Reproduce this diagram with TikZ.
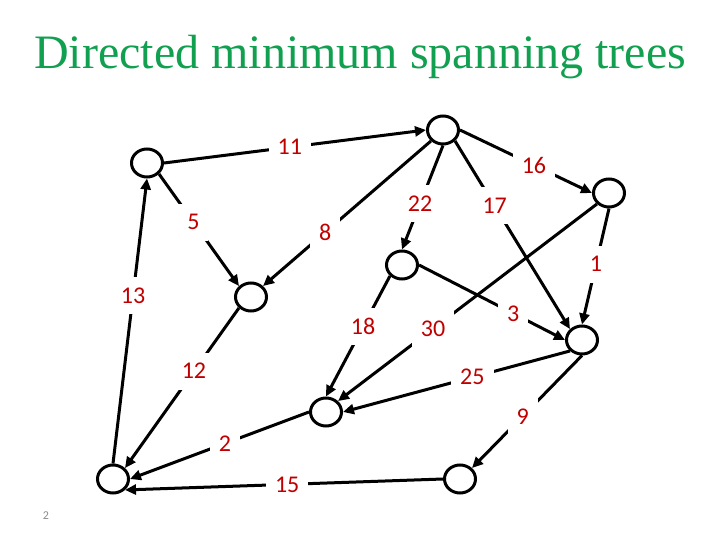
\documentclass[tikz,border=0pt]{standalone}
\usepackage{fontspec}
\setmainfont{Liberation Serif}
\newfontfamily\labelfont{Carlito}
\usetikzlibrary{arrows.meta,shapes.geometric}

\definecolor{titlegreen}{RGB}{16,160,80}
\definecolor{weightred}{RGB}{192,0,0}
\definecolor{pagegray}{RGB}{140,140,140}

\tikzset{
	vertex/.style={draw,ellipse,line width=3pt,minimum width=31pt,minimum height=28pt,inner sep=0pt},
	edge/.style={line width=3pt,-{Triangle[length=11pt,width=10pt]}},
	weight/.style={fill=white,text=weightred,font=\labelfont\fontsize{24}{28}\selectfont,inner xsep=9pt,minimum height=37pt}
}

\begin{document}
\begin{tikzpicture} [x=1pt,y=-1pt]
			\useasboundingbox (0,0) rectangle (720,540);
			
			\node[anchor=base,text=titlegreen,font=\fontsize{48}{58}\selectfont] (title) at (360,69) {Directed minimum spanning trees};
			
			\foreach \n/\x/\y in {a/147/163,b/443/130,c/609/193,d/402/265,e/251/297,f/582/340,g/326/412,h/113/479,i/460/479}
			\node[vertex] (\n) at (\x,\y) {};
			
			\foreach \s/\t/\p/\w in {a.east/b.west/0.48/11,b.east/c.west/0.56/16,a.south east/e.north west/0.43/5,
				b.south west/e.north east/0.63/8,b.south/d.north/0.56/22,b.south east/f.north west/0.345/17,
				c.south/f.north/0.48/1,c.south west/g.north east/0.633/30,d.east/f.west/0.645/3,
				d.south west/g.north/0.42/18,h.north/a.south/0.59/13,e.south west/h.north east/0.395/12,
				f.south west/g.east/0.43/25,f.south/i.north east/0.54/9,g.west/h.east/0.47/2,i.west/h.south east/0.49/15}
			\draw[edge] (\s) -- node[pos=\p,weight] (w\w) {\w} (\t);
			
			\node[text=pagegray,font=\labelfont\fontsize{12}{14}\selectfont] (page) at (46,516) {2};
			\end{tikzpicture}
\end{document}
